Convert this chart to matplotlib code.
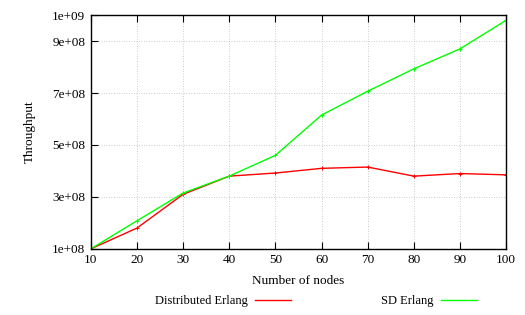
import matplotlib
matplotlib.use("Agg")
import matplotlib.pyplot as plt

plt.rcParams['font.family'] = ['Liberation Serif', 'DejaVu Serif']

nodes = [10, 20, 30, 40, 50, 60, 70, 80, 90, 100]
distributed = [1.0e8, 1.8e8, 3.1e8, 3.8e8, 3.92e8, 4.1e8, 4.15e8, 3.8e8, 3.9e8, 3.85e8]
sd_erlang = [1.0e8, 2.08e8, 3.15e8, 3.8e8, 4.6e8, 6.15e8, 7.07e8, 7.93e8, 8.7e8, 9.8e8]
yticks = [1e8, 3e8, 5e8, 7e8, 9e8, 1e9]
ytick_labels = ['1e+08', '3e+08', '5e+08', '7e+08', '9e+08', '1e+09']

fig = plt.figure(figsize=(5.25, 3.15), dpi=100)
ax = fig.add_axes([0.173, 0.21, 0.791, 0.742])

ax.plot(nodes, distributed, color='#ff0000', lw=1.0, marker='+', ms=3, mew=0.7,
        label='Distributed Erlang')
ax.plot(nodes, sd_erlang, color='#00ff00', lw=1.0, marker='+', ms=3, mew=0.7,
        label='SD Erlang')

ax.set_xlim(10, 100)
ax.set_ylim(1e8, 1e9)
ax.set_xticks(nodes)
ax.set_yticks(yticks)
ax.set_yticklabels(ytick_labels)
ax.tick_params(direction='in', top=True, right=False, length=5, labelsize=9.5, pad=4)
ax.grid(True, color='#bbbbbb', linestyle=(0, (1, 2)), lw=0.6)
for s in ax.spines.values():
    s.set_linewidth(1.0)

ax.set_xlabel('Number of nodes', fontsize=9.5, labelpad=6)
ax.set_ylabel('Throughput', fontsize=9.5, labelpad=12)

leg = fig.legend(loc='center', bbox_to_anchor=(0.602, 0.044), ncol=2, frameon=False,
                 markerfirst=False, fontsize=9, handlelength=2.9, handletextpad=0.55,
                 columnspacing=7.2, borderpad=0)
for h in leg.legend_handles:
    h.set_marker('')

fig.savefig('out.png', dpi=100)
